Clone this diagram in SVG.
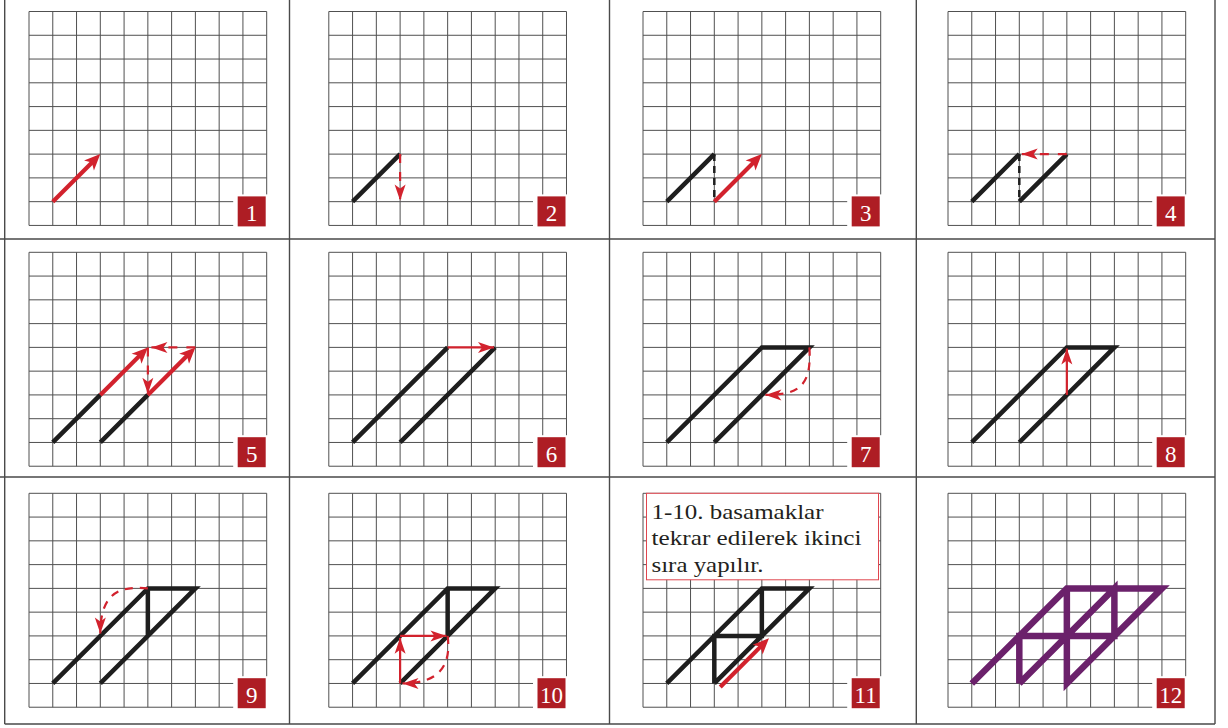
<svg xmlns="http://www.w3.org/2000/svg" xmlns:xlink="http://www.w3.org/1999/xlink" width="1228" height="728" viewBox="0 0 1228 728">
<style>
.tbl{stroke:#4a4a4a;stroke-width:1.4;fill:none}
.grid{stroke:#505050;stroke-width:1;fill:none}
.blk{stroke:#1e1e1e;stroke-width:4.5;fill:none;stroke-linejoin:miter;stroke-linecap:butt}
.blkd{stroke:#1e1e1e;stroke-width:2.5;stroke-dasharray:7 5;fill:none}
.rth{stroke:#d2222d;stroke-width:4.2;fill:none}
.rtn{stroke:#d2222d;stroke-width:2.2;fill:none}
.rd{stroke-dasharray:9 9}
.rc{stroke-dasharray:8 7}
.pur{stroke:#6b216b;stroke-width:6.5;fill:none;stroke-linejoin:miter}
.num{font-family:"Liberation Serif",serif;font-size:23px;fill:#ffffff;text-anchor:middle}
.note{font-family:"Liberation Serif",serif;font-size:22px;fill:#231f20}
</style>
<defs>
<marker id="ahThin" markerUnits="userSpaceOnUse" markerWidth="20" markerHeight="14" refX="16" refY="6" orient="auto" overflow="visible"><path d="M0,0.5 L16,6 L0,11.5 L4,6 Z" fill="#d2222d"/></marker>
<marker id="ahThick" markerUnits="userSpaceOnUse" markerWidth="20" markerHeight="16" refX="6" refY="7" orient="auto" overflow="visible"><path d="M0,0 L16,7 L0,14 L4,7 Z" fill="#d2222d"/></marker>
<g id="grid" class="grid"><path d="M0,0H237.7M0,23.77H237.7M0,47.54H237.7M0,71.31H237.7M0,95.08H237.7M0,118.85H237.7M0,142.62H237.7M0,166.39H237.7M0,190.16H237.7M0,213.93H237.7M0,0V213.93M23.77,0V213.93M47.54,0V213.93M71.31,0V213.93M95.08,0V213.93M118.85,0V213.93M142.62,0V213.93M166.39,0V213.93M190.16,0V213.93M213.93,0V213.93M237.7,0V213.93"/></g>
<g id="badge"><rect x="204.2" y="182.9" width="35" height="33" fill="#ffffff"/><rect x="208.7" y="184.9" width="28" height="30" fill="#ae1d24"/></g>
</defs>
<rect width="1228" height="728" fill="#ffffff"/>
<g id="table" class="tbl">
<path d="M4.7,0V724M289.5,0V724M609.5,0V724M916.3,0V724M1215,0V724M0,239H1215M0,477H1215M4.7,724H1215"/>
</g>
<g id="step1" transform="translate(29,11.5)">
<use xlink:href="#grid"/>
<path class="rth" d="M23.77,190.16L64.24,149.69" marker-end="url(#ahThick)"/>
<use xlink:href="#badge"/><text class="num" x="222.7" y="209.4">1</text>
</g>
<g id="step2" transform="translate(328.8,11.5)">
<use xlink:href="#grid"/>
<path class="blk" d="M23.77,190.16L71.31,142.62"/>
<path class="rtn rd" d="M71.31,142.62V188.97" marker-end="url(#ahThin)"/>
<use xlink:href="#badge"/><text class="num" x="222.7" y="209.4">2</text>
</g>
<g id="step3" transform="translate(643,11.5)">
<use xlink:href="#grid"/>
<path class="blk" d="M23.77,190.16L71.31,142.62"/>
<path class="blkd" d="M71.31,142.62V190.16"/>
<path class="rth" d="M71.31,190.16L111.78,149.69" marker-end="url(#ahThick)"/>
<use xlink:href="#badge"/><text class="num" x="222.7" y="209.4">3</text>
</g>
<g id="step4" transform="translate(948,11.5)">
<use xlink:href="#grid"/>
<path class="blk" d="M23.77,190.16L71.31,142.62M71.31,190.16L118.85,142.62"/>
<path class="blkd" d="M71.31,142.62V190.16"/>
<path class="rtn rd" d="M118.85,142.62H73.69" marker-end="url(#ahThin)"/>
<use xlink:href="#badge"/><text class="num" x="222.7" y="209.4">4</text>
</g>
<g id="step5" transform="translate(29,252.3)">
<use xlink:href="#grid"/>
<path class="blk" d="M23.77,190.16L71.31,142.62M71.31,190.16L118.85,142.62"/>
<path class="rth" d="M71.31,142.62L111.78,102.15" marker-end="url(#ahThick)"/>
<path class="rth" d="M118.85,142.62L159.32,102.15" marker-end="url(#ahThick)"/>
<path class="rtn rd" d="M118.85,95.08V141.4" marker-end="url(#ahThin)"/>
<path class="rtn rd" d="M166.39,95.08H122.42" marker-end="url(#ahThin)"/>
<use xlink:href="#badge"/><text class="num" x="222.7" y="209.4">5</text>
</g>
<g id="step6" transform="translate(328.8,252.3)">
<use xlink:href="#grid"/>
<path class="blk" d="M23.77,190.16L118.85,95.08M71.31,190.16L166.39,95.08"/>
<path class="rtn" d="M118.85,95.08H165.2" marker-end="url(#ahThin)"/>
<use xlink:href="#badge"/><text class="num" x="222.7" y="209.4">6</text>
</g>
<g id="step7" transform="translate(643,252.3)">
<use xlink:href="#grid"/>
<path class="blk" d="M23.77,190.16L118.85,95.08L166.39,95.08L71.31,190.16"/>
<path class="rtn rc" d="M166.39,95.08C168.77,133.11 156.88,142.62 122.42,142.62" marker-end="url(#ahThin)"/>
<use xlink:href="#badge"/><text class="num" x="222.7" y="209.4">7</text>
</g>
<g id="step8" transform="translate(948,252.3)">
<use xlink:href="#grid"/>
<path class="blk" d="M23.77,190.16L118.85,95.08L166.39,95.08L71.31,190.16"/>
<path class="rtn" d="M118.85,142.62V96.27" marker-end="url(#ahThin)"/>
<use xlink:href="#badge"/><text class="num" x="222.7" y="209.4">8</text>
</g>
<g id="step9" transform="translate(29,493.3)">
<use xlink:href="#grid"/>
<path class="blk" d="M23.77,190.16L118.85,95.08L166.39,95.08L71.31,190.16M118.85,95.08V142.62"/>
<path class="rtn rc" d="M118.85,95.08C92.70,92.70 71.31,97.46 71.31,140.24" marker-end="url(#ahThin)"/>
<use xlink:href="#badge"/><text class="num" x="222.7" y="209.4">9</text>
</g>
<g id="step10" transform="translate(328.8,493.3)">
<use xlink:href="#grid"/>
<path class="blk" d="M23.77,190.16L118.85,95.08L166.39,95.08L71.31,190.16M118.85,95.08V142.62"/>
<path class="rtn" d="M71.31,190.16V144.52" marker-end="url(#ahThin)"/>
<path class="rtn" d="M71.31,142.62H117.66" marker-end="url(#ahThin)"/>
<path class="rtn rc" d="M118.85,142.62C122.42,171.14 111.72,190.16 73.69,190.16" marker-end="url(#ahThin)"/>
<use xlink:href="#badge"/><text class="num" x="222.7" y="209.4">10</text>
</g>
<g id="step11" transform="translate(643,493.3)">
<use xlink:href="#grid"/>
<path class="blk" d="M23.77,190.16L118.85,95.08L166.39,95.08L71.31,190.16M118.85,95.08V142.62H71.31V190.16"/>
<path class="rth" d="M77.25,193.73L118.91,152.06" marker-end="url(#ahThick)"/>
<use xlink:href="#badge"/><text class="num" x="222.7" y="209.4">11</text>
</g>
<g id="note11">
<rect x="646.5" y="493.3" width="232" height="86.5" fill="#ffffff" stroke="#e0464f" stroke-width="1"/>
<text class="note" x="651.5" y="518.5" textLength="172" lengthAdjust="spacingAndGlyphs">1-10. basamaklar</text>
<text class="note" x="651.5" y="544.5" textLength="210" lengthAdjust="spacingAndGlyphs">tekrar edilerek ikinci</text>
<text class="note" x="651.5" y="572" textLength="112" lengthAdjust="spacingAndGlyphs">sıra yapılır.</text>
</g>
<g id="step12" transform="translate(948,493.3)">
<use xlink:href="#grid"/>
<path class="pur" d="M23.77,190.16L118.85,95.08L213.93,95.08L118.85,190.16V95.08M71.31,190.16L166.39,95.08V142.62H71.31V190.16"/>
<use xlink:href="#badge"/><text class="num" x="222.7" y="209.4">12</text>
</g>
</svg>
